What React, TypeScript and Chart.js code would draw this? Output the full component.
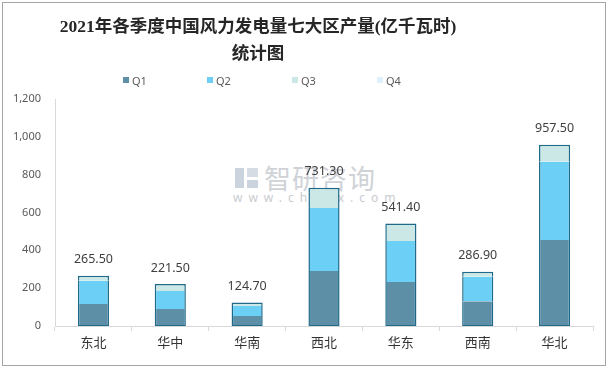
import React, { useEffect, useRef } from "react";
import { Chart, registerables } from "chart.js";

Chart.register(...registerables);

const categories = ["东北", "华中", "华南", "西北", "华东", "西南", "华北"];
const seriesNames = ["Q1", "Q2", "Q3", "Q4"];
const q1 = [116, 90, 53, 291, 233, 131, 455];
const q2 = [123, 95, 53, 333, 217, 130, 413];
const q3 = [26.5, 36.5, 18.7, 107.3, 91.4, 25.9, 89.5];
const q4 = [0, 0, 0, 0, 0, 0, 0];
const totals = ["265.50", "221.50", "124.70", "731.30", "541.40", "286.90", "957.50"];
const yTicks = [0, 200, 400, 600, 800, 1000, 1200];
const seriesColors = ["#5d8fa7", "#6bcff6", "#cbe8e6", "#dff1fb"];
const titleLines = ["2021年各季度中国风力发电量七大区产量(亿千瓦时)", "统计图"];

const FONT = '"Noto Sans", "Noto Sans CJK SC", sans-serif';
const EDGE = "#1f6a8a";

const totalLabels = {
  id: "totalLabels",
  afterDatasetsDraw(chart: any) {
    const { ctx } = chart;
    const y = chart.scales.y;
    const x = chart.scales.x;
    ctx.save();
    ctx.font = `12.5px ${FONT}`;
    ctx.fillStyle = "#404040";
    ctx.textAlign = "center";
    ctx.textBaseline = "middle";
    categories.forEach((_, i) => {
      const sum = chart.data.datasets.reduce((a: number, d: any) => a + (d.data[i] || 0), 0);
      const py = y.getPixelForValue(sum);
      const px = x.getPixelForValue(i);
      ctx.fillText(totals[i], px, py - 16);
    });
    ctx.restore();
  },
};

export default function App() {
  const ref = useRef<HTMLCanvasElement>(null);
  useEffect(() => {
    if (!ref.current) return;
    const series = [q1, q2, q3, q4];
    const borders = [
      { left: 1.5, right: 1.5, bottom: 1, top: 0 },
      { left: 1.5, right: 1.5, bottom: 0, top: 0 },
      { left: 1.5, right: 1.5, bottom: 0, top: 1.5 },
      0,
    ];
    const chart = new Chart(ref.current, {
      type: "bar",
      data: {
        labels: categories,
        datasets: series.map((d, i) => ({
          label: seriesNames[i],
          data: d,
          backgroundColor: seriesColors[i],
          borderColor: EDGE,
          borderWidth: borders[i] as any,
          borderSkipped: false as any,
          categoryPercentage: 1,
          barPercentage: 0.405,
        })),
      },
      options: {
        animation: false,
        responsive: false,
        maintainAspectRatio: false,
        layout: { padding: { top: 99, right: 17, bottom: 0, left: 0 } },
        plugins: {
          legend: { display: false },
          title: { display: false },
          tooltip: { enabled: false },
        },
        scales: {
          x: {
            stacked: true,
            afterFit: (s: any) => { s.height = 43; },
            grid: {
              offset: true,
              drawOnChartArea: false,
              drawTicks: true,
              tickLength: 5,
              color: "#d9d9d9",
            },
            border: { display: true, color: "#d9d9d9" },
            ticks: {
              padding: 4,
              color: "#333333",
              font: { size: 13, family: FONT },
            },
          },
          y: {
            stacked: true,
            min: 0,
            max: 1200,
            afterFit: (s: any) => { s.width = 55; },
            afterBuildTicks: (s: any) => { s.ticks = yTicks.map((v) => ({ value: v })); },
            grid: { display: false, drawTicks: false },
            border: { display: true, color: "#d9d9d9" },
            ticks: {
              padding: 14,
              color: "#595959",
              font: { size: 11, family: FONT },
              callback: (v: any) => Number(v).toLocaleString("en-US"),
            },
          },
        },
      },
      plugins: [totalLabels],
    });
    return () => chart.destroy();
  }, []);

  const legendX = [123, 207, 292, 377];

  return (
    <div style={{ position: "fixed", left: 0, top: 0, width: 610, height: 369, background: "#fff", overflow: "hidden" }}>
      <div style={{ position: "absolute", left: 2, top: 2, width: 602, height: 362, border: "1px solid #a6a6a6" }} />
      {/* watermark */}
      <div style={{ position: "absolute", left: 235, top: 168, width: 9, height: 20, background: "#cbd3de" }} />
      <div style={{ position: "absolute", left: 247, top: 168, width: 11, height: 9, background: "#d6dce4" }} />
      <div style={{ position: "absolute", left: 247, top: 180, width: 11, height: 8, background: "#cbd3de" }} />
      <div style={{ position: "absolute", left: 264, top: 162, fontFamily: '"Noto Sans CJK SC", sans-serif', fontSize: 27, lineHeight: "32px", color: "#cfd3d8", letterSpacing: 1 }}>智研咨询</div>
      <div style={{ position: "absolute", left: 233, top: 190, fontFamily: FONT, fontSize: 12, lineHeight: "16px", color: "#c8ccd1", letterSpacing: 6 }}>www.chyxx.com</div>
      <canvas ref={ref} width={610} height={369} style={{ position: "absolute", left: 0, top: 0, width: 610, height: 369 }} />
      <div style={{ position: "absolute", left: 0, top: 13, width: 516, textAlign: "center", fontFamily: '"Liberation Serif", "Noto Sans CJK SC", serif', fontWeight: "bold", fontSize: 17.5, lineHeight: "27px", color: "#262626" }}>
        {titleLines.map((t, i) => <div key={i}>{t}</div>)}
      </div>
      {seriesNames.map((n, i) => (
        <div key={n} style={{ position: "absolute", left: legendX[i], top: 73, height: 14, display: "flex", alignItems: "center", fontFamily: FONT, fontSize: 11, color: "#595959" }}>
          <span style={{ display: "inline-block", width: 6, height: 6, background: seriesColors[i], marginRight: 3 }} />
          {n}
        </div>
      ))}
    </div>
  );
}
